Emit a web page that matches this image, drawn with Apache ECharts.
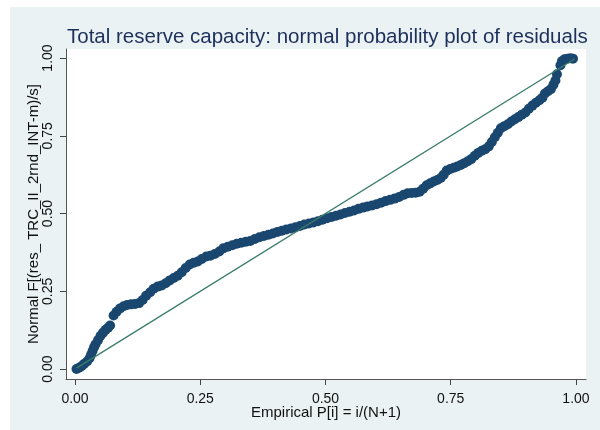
<!DOCTYPE html>
<html>
<head>
<meta charset="utf-8">
<script src="https://cdn.jsdelivr.net/npm/echarts@6/dist/echarts.min.js"></script>
<style>
html,body{margin:0;padding:0;background:#fff;}
#wrap{position:relative;width:600px;height:430px;background:#fff;}
#bg{position:absolute;left:10px;top:7px;width:590px;height:423px;background:#eaf2f3;}
#chart{position:absolute;left:0;top:0;width:600px;height:430px;}
</style>
</head>
<body>
<div id="wrap"><div id="bg"></div><div id="chart"></div></div>
<script>
// Empirical P[i] values (x) and Normal F values (y)
const empiricalP = [0.003,0.008,0.013,0.018,0.024,0.029,0.032,0.035,0.038,0.041,0.046,0.051,0.056,0.061,0.066,0.070,
0.077,0.083,0.090,0.097,0.104,0.112,0.120,0.128,0.135,0.142,0.150,0.157,0.165,0.173,0.181,0.189,0.197,0.205,0.213,0.221,
0.229,0.237,0.245,0.253,0.262,0.270,0.279,0.288,0.296,0.305,0.314,0.323,0.332,0.341,0.350,0.359,0.368,0.377,0.386,0.395,
0.404,0.413,0.422,0.431,0.440,0.449,0.458,0.467,0.476,0.485,0.494,0.503,0.512,0.521,0.530,0.539,0.548,0.557,0.566,0.575,
0.584,0.593,0.602,0.611,0.620,0.629,0.638,0.647,0.656,0.664,0.672,0.680,0.688,0.695,0.702,0.709,0.716,0.723,0.730,0.736,
0.742,0.749,0.756,0.763,0.770,0.777,0.784,0.791,0.798,0.805,0.812,0.819,0.826,0.832,0.838,0.844,0.850,0.857,0.864,0.871,
0.878,0.885,0.892,0.899,0.906,0.913,0.920,0.927,0.933,0.938,0.944,0.950,0.955,0.959,0.962,0.969,0.972,0.977,0.983,0.989,0.994];
const normalF = [0.000,0.004,0.009,0.016,0.024,0.035,0.046,0.058,0.070,0.080,0.093,0.107,0.117,0.126,0.133,0.140,
0.172,0.184,0.195,0.202,0.206,0.208,0.209,0.212,0.222,0.236,0.247,0.258,0.265,0.269,0.276,0.285,0.293,0.300,0.311,0.325,
0.336,0.342,0.346,0.354,0.362,0.364,0.370,0.378,0.388,0.393,0.398,0.403,0.406,0.409,0.412,0.418,0.424,0.428,0.432,0.436,
0.441,0.445,0.449,0.452,0.456,0.460,0.465,0.468,0.471,0.475,0.480,0.485,0.489,0.493,0.497,0.502,0.506,0.510,0.515,0.519,
0.523,0.526,0.530,0.535,0.540,0.544,0.548,0.553,0.560,0.565,0.566,0.567,0.570,0.580,0.591,0.597,0.603,0.608,0.614,0.625,
0.638,0.643,0.647,0.651,0.656,0.662,0.668,0.675,0.686,0.695,0.702,0.707,0.716,0.730,0.745,0.760,0.774,0.781,0.787,0.796,
0.803,0.810,0.818,0.825,0.837,0.847,0.856,0.864,0.872,0.886,0.893,0.900,0.914,0.928,0.948,0.977,0.990,0.996,0.998,0.999,0.998];
// Reference line y = x
const refX = [0.003, 0.997];
const refY = [0.003, 0.997];
const tickValues = [0, 0.25, 0.5, 0.75, 1];
const tickLabels = ['0.00', '0.25', '0.50', '0.75', '1.00'];

const titleText = 'Total reserve capacity: normal probability plot of residuals';
const xName = 'Empirical P[i] = i/(N+1)';
const yName = 'Normal F[(res_ TRC_II_2rnd_INT-m)/s]';

const fmt = v => { const i = tickValues.findIndex(t => Math.abs(t - v) < 1e-9); return i >= 0 ? tickLabels[i] : ''; };
const font = '"Liberation Sans", Arial, sans-serif';

const chart = echarts.init(document.getElementById('chart'), null, {renderer: 'canvas'});
chart.setOption({
  backgroundColor: 'transparent',
  animation: false,
  title: {
    text: titleText, left: 62, top: 22,
    textStyle: {color: '#1d2f5b', fontSize: 20.5, fontWeight: 'normal', fontFamily: font}
  },
  grid: {left: 66, right: 14, top: 49, bottom: 51, show: true, backgroundColor: '#ffffff', borderWidth: 0},
  xAxis: {
    type: 'value', min: -0.018, max: 1.02,
    name: xName, nameLocation: 'middle', nameGap: 26, nameMoveOverlap: false,
    nameTextStyle: {color: '#111', fontSize: 15, fontFamily: font},
    axisLine: {show: true, onZero: false, lineStyle: {color: '#555', width: 1}},
    axisTick: {show: true, length: 6, customValues: tickValues, lineStyle: {color: '#444'}},
    axisLabel: {customValues: tickValues, formatter: fmt, color: '#111', fontSize: 14, fontFamily: font, margin: 13},
    splitLine: {show: false}
  },
  yAxis: {
    type: 'value', min: -0.032, max: 1.029,
    name: yName, nameLocation: 'middle', nameGap: 25, nameRotate: 90, nameMoveOverlap: false,
    nameTextStyle: {color: '#111', fontSize: 15, fontFamily: font},
    axisLine: {show: true, onZero: false, lineStyle: {color: '#555', width: 1}},
    axisTick: {show: true, length: 6, customValues: tickValues, lineStyle: {color: '#444'}},
    axisLabel: {customValues: tickValues, formatter: fmt, rotate: 90, color: '#111', fontSize: 14, fontFamily: font, margin: 11},
    splitLine: {show: false}
  },
  series: [
    {
      type: 'scatter', symbol: 'circle', symbolSize: 10,
      itemStyle: {color: '#1a476f', opacity: 1},
      data: empiricalP.map((x, i) => [x, normalF[i]]),
      z: 2
    },
    {
      type: 'line', showSymbol: false, symbol: 'none',
      lineStyle: {color: '#3a7d6b', width: 1.3},
      data: refX.map((x, i) => [x, refY[i]]),
      z: 3
    }
  ]
});
</script>
</body>
</html>
